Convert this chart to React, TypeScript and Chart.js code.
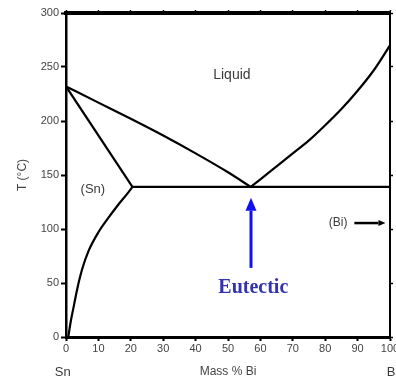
import React, { useEffect, useRef } from "react";
import { Chart, registerables } from "chart.js";
Chart.register(...registerables);

// Phase boundaries (x = mass % Bi, T = °C)
const liquidusLeftX = [0, 10, 20, 30, 40, 50, 57];
const liquidusLeftT = [232, 217, 202, 186.5, 170, 152.5, 139];
const liquidusRightX = [57, 60, 65, 70, 75, 80, 85, 90, 95, 100];
const liquidusRightT = [139, 146, 158, 170, 182, 196, 211, 228, 247, 270];
const solidusX = [0, 20.5];
const solidusT = [232, 139];
const solvusX = [0.7, 1.5, 2.5, 3.5, 5, 7, 10, 13, 16, 19, 20.5];
const solvusT = [0, 15, 30, 45, 63, 80, 97, 110, 122, 133, 139];
const eutecticX = [20.5, 100];
const eutecticT = [139, 139];

// Axis settings
const xRange = [0, 100];
const yRange = [0, 300];
const xStep = 10;
const yStep = 50;
const xTitle = "Mass % Bi";
const yTitle = "T (°C)";

// Annotations (data coordinates)
const regionLabels = ["Liquid", "(Sn)", "(Bi)"];
const regionLabelX = [51.2, 8.3, 84];
const regionLabelT = [242.5, 137, 105.5];
const endLabels = ["Sn", "Bi"];
const endLabelX = [-1, 100.8];
const endLabelT = [-33, -33];
const eutecticLabel = "Eutectic";
const eutecticLabelX = 57.8;
const eutecticLabelT = 45.5;
const eutecticArrowX = 57.1;
const eutecticArrowT = [64, 129];
const biArrowX = [89, 98.6];
const biArrowT = 105.5;

const pts = (xs: number[], ts: number[]) => xs.map((x, i) => ({ x, y: ts[i] }));

function drawArrow(
  ctx: CanvasRenderingContext2D,
  x1: number, y1: number, x2: number, y2: number,
  color: string, width: number, headLen: number, headW: number
) {
  const ang = Math.atan2(y2 - y1, x2 - x1);
  const bx = x2 - headLen * Math.cos(ang);
  const by = y2 - headLen * Math.sin(ang);
  ctx.save();
  ctx.strokeStyle = color;
  ctx.fillStyle = color;
  ctx.lineWidth = width;
  ctx.beginPath();
  ctx.moveTo(x1, y1);
  ctx.lineTo(bx, by);
  ctx.stroke();
  ctx.beginPath();
  ctx.moveTo(x2, y2);
  ctx.lineTo(bx + (headW / 2) * Math.sin(ang), by - (headW / 2) * Math.cos(ang));
  ctx.lineTo(bx - (headW / 2) * Math.sin(ang), by + (headW / 2) * Math.cos(ang));
  ctx.closePath();
  ctx.fill();
  ctx.restore();
}

const annotationPlugin = {
  id: "phaseAnnotations",
  afterDraw(chart: any) {
    const ctx: CanvasRenderingContext2D = chart.ctx;
    const xs = chart.scales.x;
    const ys = chart.scales.y;
    const px = (v: number) => xs.getPixelForValue(v);
    const py = (v: number) => ys.getPixelForValue(v);
    ctx.save();
    ctx.textAlign = "center";
    ctx.textBaseline = "middle";
    const sizes = [14, 13, 12];
    regionLabels.forEach((t, i) => {
      ctx.font = `${sizes[i]}px "Liberation Sans", Arial, sans-serif`;
      ctx.fillStyle = "#3a3a3a";
      ctx.fillText(t, px(regionLabelX[i]), py(regionLabelT[i]));
    });
    endLabels.forEach((t, i) => {
      ctx.font = `13px "Liberation Sans", Arial, sans-serif`;
      ctx.fillStyle = "#3a3a3a";
      ctx.fillText(t, px(endLabelX[i]), py(endLabelT[i]));
    });
    ctx.font = `bold 20px "Liberation Serif", "Times New Roman", serif`;
    ctx.fillStyle = "#3333b0";
    ctx.fillText(eutecticLabel, px(eutecticLabelX), py(eutecticLabelT));
    ctx.restore();

    drawArrow(ctx, px(eutecticArrowX), py(eutecticArrowT[0]), px(eutecticArrowX), py(eutecticArrowT[1]),
      "#1010f0", 3, 13, 11);
    drawArrow(ctx, px(biArrowX[0]), py(biArrowT), px(biArrowX[1]), py(biArrowT),
      "#000", 2.5, 7, 6);
  },
};

const lineStyle = {
  showLine: true,
  pointRadius: 0,
  borderColor: "#000",
  borderWidth: 2.2,
  cubicInterpolationMode: "monotone" as const,
  fill: false,
};

export default function App() {
  const ref = useRef<HTMLCanvasElement | null>(null);
  useEffect(() => {
    if (!ref.current) return;
    const tickFont = { family: '"Liberation Sans", Arial, sans-serif', size: 11 };
    const chart = new Chart(ref.current, {
      type: "scatter",
      data: {
        datasets: [
          { ...lineStyle, data: pts(liquidusLeftX, liquidusLeftT) },
          { ...lineStyle, data: pts(liquidusRightX, liquidusRightT) },
          { ...lineStyle, data: pts(solidusX, solidusT) },
          { ...lineStyle, data: pts(solvusX, solvusT) },
          { ...lineStyle, data: pts(eutecticX, eutecticT) },
        ],
      },
      options: {
        animation: false,
        responsive: false,
        devicePixelRatio: 1,
        layout: { padding: 0 },
        plugins: { legend: { display: false }, tooltip: { enabled: false } },
        scales: {
          x: {
            type: "linear",
            position: "bottom",
            min: xRange[0],
            max: xRange[1],
            ticks: { stepSize: xStep, font: tickFont, color: "#444", padding: 1 },
            grid: { drawOnChartArea: false, drawTicks: true, tickLength: 4, color: "#000", tickWidth: 2 },
            border: { display: true, color: "#000", width: 3 },
            title: { display: true, text: xTitle, font: { ...tickFont, size: 12 }, color: "#444", padding: { top: 0, bottom: 2 } },
            afterFit: (s: any) => { s.height = 44; s.paddingLeft = 0; s.paddingRight = 0; },
          },
          x2: {
            type: "linear",
            axis: "x",
            position: "top",
            min: xRange[0],
            max: xRange[1],
            ticks: { stepSize: xStep, display: false },
            grid: { drawOnChartArea: false, drawTicks: true, tickLength: 3, color: "#000", tickWidth: 1.5 },
            border: { display: true, color: "#000", width: 4 },
            afterFit: (s: any) => { s.height = 13; s.paddingLeft = 0; s.paddingRight = 0; },
          },
          y: {
            type: "linear",
            position: "left",
            min: yRange[0],
            max: yRange[1],
            ticks: { stepSize: yStep, font: tickFont, color: "#444", padding: 2 },
            grid: { drawOnChartArea: false, drawTicks: true, tickLength: 5, color: "#000", tickWidth: 2 },
            border: { display: true, color: "#000", width: 2.5 },
            title: { display: true, text: yTitle, font: { ...tickFont, size: 12 }, color: "#444", padding: { top: 15, bottom: 0 } },
            afterFit: (s: any) => { s.width = 66; s.paddingTop = 0; s.paddingBottom = 0; },
          },
          y2: {
            type: "linear",
            axis: "y",
            position: "right",
            min: yRange[0],
            max: yRange[1],
            ticks: { stepSize: yStep, display: false },
            grid: { drawOnChartArea: false, drawTicks: true, tickLength: 3, color: "#000", tickWidth: 1.5 },
            border: { display: true, color: "#000", width: 2 },
            afterFit: (s: any) => { s.width = 6; s.paddingTop = 0; s.paddingBottom = 0; },
          },
        },
      },
      plugins: [annotationPlugin],
    });
    return () => chart.destroy();
  }, []);
  return (
    <div style={{ position: "fixed", left: 0, top: 0, width: 396, height: 381, background: "#fff" }}>
      <canvas ref={ref} width={396} height={381} style={{ width: 396, height: 381, display: "block" }} />
    </div>
  );
}
